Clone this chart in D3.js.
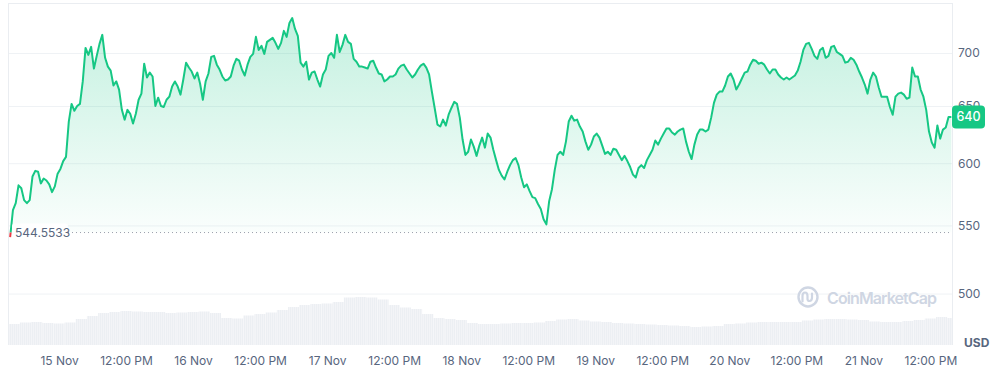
<!DOCTYPE html>
<html>
<head>
<meta charset="utf-8">
<script src="https://cdn.jsdelivr.net/npm/d3@7"></script>
<style>
  body { margin: 0; background: #fff; }
  svg { display: block; font-family: Inter, "Noto Sans", sans-serif; }
</style>
</head>
<body>
<svg id="chart" width="998" height="369"></svg>
<script>
// price series, one point every 30 minutes
var priceStart = new Date(2024, 10, 14, 15, 15);
var priceStepMin = 30;
var prices = [
  541.0, 561.9, 567.4, 581.7, 579.4, 569.8, 567.4, 569.8, 588.9, 593.6,
  592.9, 583.3, 587.3, 585.7, 582.5, 576.2, 580.9, 591.3, 595.2, 601.8,
  605.3, 636.0, 651.9, 645.6, 650.0, 651.9, 672.7, 705.0, 698.1, 706.0,
  684.9, 697.2, 709.0, 718.0, 695.3, 686.8, 683.0, 668.9, 672.7, 665.1,
  646.5, 637.7, 646.5, 643.0, 634.2, 643.0, 655.7, 661.3, 689.6, 676.4,
  681.1, 677.4, 650.0, 657.6, 650.0, 649.1, 655.7, 658.5, 667.9, 672.7,
  667.9, 660.4, 674.5, 690.6, 685.9, 682.1, 675.5, 681.1, 670.8, 655.7,
  672.7, 680.2, 696.2, 697.2, 688.7, 684.0, 677.4, 673.6, 674.5, 677.4,
  687.7, 694.3, 692.5, 684.0, 678.3, 688.7, 696.2, 699.1, 716.0, 703.0,
  707.0, 699.1, 711.0, 713.0, 715.0, 710.0, 704.0, 710.0, 722.0, 716.0,
  730.0, 735.0, 724.0, 717.0, 690.6, 686.8, 691.5, 674.5, 681.1, 682.1,
  674.5, 667.9, 679.3, 684.0, 697.2, 700.0, 695.3, 718.0, 701.0, 708.0,
  718.0, 711.0, 709.0, 694.3, 691.5, 686.8, 686.8, 685.9, 684.9, 691.5,
  692.5, 685.9, 680.2, 679.3, 672.7, 674.5, 677.4, 677.4, 679.3, 684.9,
  687.7, 688.7, 684.0, 680.2, 676.4, 679.3, 684.0, 687.7, 689.6, 685.9,
  679.3, 663.2, 648.2, 633.3, 631.6, 637.7, 632.5, 642.1, 648.2, 653.8,
  651.9, 639.5, 620.2, 607.0, 609.7, 620.2, 614.1, 606.2, 615.0, 621.9,
  613.2, 625.4, 621.9, 611.4, 602.6, 594.4, 589.7, 586.5, 592.9, 598.4,
  602.6, 604.4, 598.4, 588.1, 580.2, 582.5, 577.0, 572.2, 571.4, 566.7,
  562.7, 554.8, 550.8, 569.0, 578.6, 594.4, 607.0, 609.7, 607.0, 618.4,
  636.0, 641.2, 636.8, 637.7, 631.6, 627.2, 618.4, 611.4, 615.8, 622.8,
  625.4, 621.9, 615.0, 607.9, 609.7, 607.0, 612.3, 611.4, 607.0, 602.6,
  606.2, 601.8, 596.8, 590.5, 588.1, 596.0, 598.4, 596.0, 602.6, 607.0,
  611.4, 619.3, 615.8, 621.0, 625.4, 629.8, 629.8, 626.3, 624.5, 627.2,
  628.9, 629.8, 618.4, 609.7, 603.5, 615.8, 624.5, 628.9, 628.9, 627.2,
  628.9, 639.5, 652.8, 660.4, 663.2, 663.2, 668.9, 677.4, 680.2, 674.5,
  665.1, 669.8, 675.5, 681.1, 682.1, 688.7, 693.4, 692.5, 689.6, 690.6,
  688.7, 684.0, 680.2, 684.0, 684.0, 679.3, 676.4, 674.5, 676.4, 674.5,
  676.4, 678.3, 683.0, 691.5, 703.0, 709.0, 710.0, 704.0, 697.2, 694.3,
  703.0, 705.0, 695.3, 697.2, 706.0, 707.0, 701.0, 699.1, 697.2, 690.6,
  691.5, 695.3, 693.4, 688.7, 682.1, 676.4, 669.8, 661.3, 674.5, 681.1,
  677.4, 667.0, 658.5, 658.5, 658.5, 649.1, 642.1, 658.5, 661.3, 662.3,
  660.4, 656.6, 657.6, 685.9, 677.4, 677.4, 665.1, 658.5, 646.5, 627.2,
  617.6, 613.2, 632.5, 621.0, 628.9, 630.7, 640.0, 640.0
];
var openPrice = 544.5533;
var lastPriceLabel = "640";

// volume, USD millions, one bar every 2 hours
var volumeStart = new Date(2024, 10, 14, 15, 0);
var volumeStepHours = 2;
var volumes = [
  1050, 1125, 1150, 1100, 1075, 1125, 1300, 1450, 1600, 1650,
  1700, 1675, 1650, 1650, 1600, 1625, 1650, 1675, 1600, 1350,
  1325, 1475, 1550, 1625, 1750, 1900, 2000, 2050, 2075, 2150,
  2375, 2400, 2375, 2275, 2000, 1875, 1800, 1550, 1350, 1300,
  1250, 1100, 1050, 1050, 1075, 1100, 1100, 1125, 1200, 1275,
  1300, 1225, 1175, 1150, 1100, 1075, 1050, 1025, 1000, 975,
  950, 900, 925, 950, 1050, 1075, 1125, 1150, 1150, 1150,
  1150, 1225, 1275, 1300, 1300, 1275, 1250, 1175, 1150, 1150,
  1200, 1250, 1325, 1400, 1350
];

var yTicks = [500, 550, 600, 650, 700];
var xTickDays = [15, 16, 17, 18, 19, 20, 21];
var currencyLabel = "USD";

var green = "#16c784", red = "#ea3943", textCol = "#58667e", gridCol = "#eff2f5";
var plotL = 8, plotR = 952, plotT = 3, plotB = 345;

var priceData = prices.map(function(p, i){
  return { t: new Date(priceStart.getTime() + i * priceStepMin * 60000), p: p };
});
var volData = volumes.map(function(v, i){
  return { t: new Date(volumeStart.getTime() + i * volumeStepHours * 3600000), v: v };
});

var x = d3.scaleTime()
  .domain([new Date(2024, 10, 14, 14, 52), new Date(2024, 10, 21, 15, 52)])
  .range([plotL, plotR]);
var y = d3.scaleLog().domain([465.3, 750.7]).range([plotB, plotT]);
var vy = d3.scaleLinear().domain([0, 2400]).range([plotB, 297]);
var baseY = y(openPrice);

var svg = d3.select("#chart");
var defs = svg.append("defs");

var gUp = defs.append("linearGradient").attr("id", "gUp")
  .attr("gradientUnits", "userSpaceOnUse").attr("x1", 0).attr("x2", 0).attr("y1", 15).attr("y2", baseY);
gUp.append("stop").attr("offset", 0).attr("stop-color", green).attr("stop-opacity", 0.26);
gUp.append("stop").attr("offset", 1).attr("stop-color", green).attr("stop-opacity", 0.02);
var gDn = defs.append("linearGradient").attr("id", "gDn")
  .attr("gradientUnits", "userSpaceOnUse").attr("x1", 0).attr("x2", 0).attr("y1", baseY).attr("y2", plotB);
gDn.append("stop").attr("offset", 0).attr("stop-color", red).attr("stop-opacity", 0.02);
gDn.append("stop").attr("offset", 1).attr("stop-color", red).attr("stop-opacity", 0.2);

var pat = defs.append("pattern").attr("id", "volPat")
  .attr("patternUnits", "userSpaceOnUse").attr("width", 2).attr("height", 10);
pat.append("rect").attr("width", 2).attr("height", 10).attr("fill", "#f6f7f9");
pat.append("rect").attr("width", 1.3).attr("height", 10).attr("fill", "#eceff3");

defs.append("clipPath").attr("id", "clipUp").append("rect")
  .attr("x", plotL).attr("y", 0).attr("width", plotR - plotL).attr("height", baseY);
defs.append("clipPath").attr("id", "clipDn").append("rect")
  .attr("x", plotL).attr("y", baseY).attr("width", plotR - plotL).attr("height", plotB - baseY);
defs.append("clipPath").attr("id", "clipPlot").append("rect")
  .attr("x", plotL).attr("y", plotT).attr("width", plotR - plotL).attr("height", plotB - plotT);

// grid + frame
var grid = svg.append("g").attr("transform", "translate(" + plotL + ",0)")
  .call(d3.axisLeft(y).tickValues(yTicks).tickSize(-(plotR - plotL)).tickFormat(""));
grid.select(".domain").remove();
grid.selectAll("line").attr("stroke", gridCol).attr("stroke-width", 1);

svg.append("line").attr("x1", plotL).attr("x2", plotR).attr("y1", plotT + 0.5).attr("y2", plotT + 0.5)
  .attr("stroke", "#eaedf1");
svg.append("line").attr("x1", plotL + 0.5).attr("x2", plotL + 0.5).attr("y1", plotT).attr("y2", plotB)
  .attr("stroke", "#eaedf1");
svg.append("line").attr("x1", plotR + 0.5).attr("x2", plotR + 0.5).attr("y1", plotT).attr("y2", plotB)
  .attr("stroke", "#eaedf1");

// volume bars
svg.append("g").attr("clip-path", "url(#clipPlot)")
  .selectAll("rect").data(volData).enter().append("rect")
  .attr("x", function(d){ return x(d.t); })
  .attr("width", function(d){ return x(new Date(d.t.getTime() + volumeStepHours * 3600000)) - x(d.t); })
  .attr("y", function(d){ return vy(d.v); })
  .attr("height", function(d){ return plotB - vy(d.v); })
  .attr("fill", "url(#volPat)");

// watermark
var wm = svg.append("g").attr("transform", "translate(808,297)");
wm.append("circle").attr("r", 9.5).attr("fill", "none").attr("stroke", "#cfd6e3").attr("stroke-width", 2.4);
wm.append("path").attr("d", "M-5.5,4.5 L-5.5,-1 Q-5.5,-4.5 -3,-4.5 Q-0.5,-4.5 -0.5,-1 L-0.5,2 Q-0.5,4 1.5,4 Q4,4 4,0.5 L4,-3.5")
  .attr("fill", "none").attr("stroke", "#cfd6e3").attr("stroke-width", 2.2).attr("stroke-linecap", "round");
svg.append("text").attr("x", 827).attr("y", 303.5).attr("font-size", 16).attr("font-weight", 600)
  .attr("fill", "#cfd6e3").attr("textLength", 110).text("CoinMarketCap");

// area + line
var area = d3.area().x(function(d){ return x(d.t); }).y0(baseY).y1(function(d){ return y(d.p); });
var line = d3.line().x(function(d){ return x(d.t); }).y(function(d){ return y(d.p); });

svg.append("path").datum(priceData).attr("d", area).attr("fill", "url(#gUp)").attr("clip-path", "url(#clipUp)");
svg.append("path").datum(priceData).attr("d", area).attr("fill", "url(#gDn)").attr("clip-path", "url(#clipDn)");

// baseline at opening price
svg.append("line").attr("x1", 68).attr("x2", plotR).attr("y1", baseY).attr("y2", baseY)
  .attr("stroke", "#9aa1ad").attr("stroke-width", 1).attr("stroke-dasharray", "1,3");

svg.append("path").datum(priceData).attr("d", line).attr("fill", "none")
  .attr("stroke", green).attr("stroke-width", 2).attr("stroke-linejoin", "round").attr("clip-path", "url(#clipUp)");
svg.append("path").datum(priceData).attr("d", line).attr("fill", "none")
  .attr("stroke", red).attr("stroke-width", 2).attr("stroke-linejoin", "round").attr("clip-path", "url(#clipDn)");

svg.append("rect").attr("x", 12).attr("y", baseY - 9).attr("width", 56).attr("height", 18).attr("rx", 3)
  .attr("fill", "#fff");
svg.append("text").attr("x", 15).attr("y", baseY).attr("dy", "0.35em").attr("font-size", 12)
  .attr("fill", textCol).text(d3.format(".4f")(openPrice));

// y axis labels
var yAxis = svg.append("g").attr("transform", "translate(" + plotR + ",0)")
  .call(d3.axisRight(y).tickValues(yTicks).tickSize(0).tickPadding(6).tickFormat(d3.format("d")));
yAxis.select(".domain").remove();
yAxis.selectAll("text").attr("fill", textCol).attr("font-size", 12).attr("font-family", "Inter, sans-serif");

// current price badge
var lastY = y(prices[prices.length - 1]);
svg.append("rect").attr("x", plotR).attr("y", lastY - 11.5).attr("width", 33).attr("height", 23).attr("rx", 4)
  .attr("fill", green);
svg.append("text").attr("x", plotR + 16.5).attr("y", lastY).attr("dy", "0.35em").attr("text-anchor", "middle")
  .attr("font-size", 12.5).attr("font-weight", 500).attr("fill", "#fff").text(lastPriceLabel);

svg.append("text").attr("x", 964).attr("y", 347).attr("font-size", 12).attr("font-weight", 700)
  .attr("fill", textCol).text(currencyLabel);

// x axis labels
var xTickValues = [];
xTickDays.forEach(function(day){
  xTickValues.push(new Date(2024, 10, day, 0, 0));
  xTickValues.push(new Date(2024, 10, day, 12, 0));
});
var fmtDay = d3.timeFormat("%-d %b"), fmtHour = d3.timeFormat("%I:%M %p");
var xAxis = svg.append("g").attr("transform", "translate(0,350)")
  .call(d3.axisBottom(x).tickValues(xTickValues).tickSize(0).tickPadding(6)
    .tickFormat(function(d){ return d.getHours() === 0 ? fmtDay(d) : fmtHour(d); }));
xAxis.select(".domain").remove();
xAxis.selectAll("text").attr("fill", textCol).attr("font-size", 12).attr("font-family", "Inter, sans-serif");
</script>
</body>
</html>
